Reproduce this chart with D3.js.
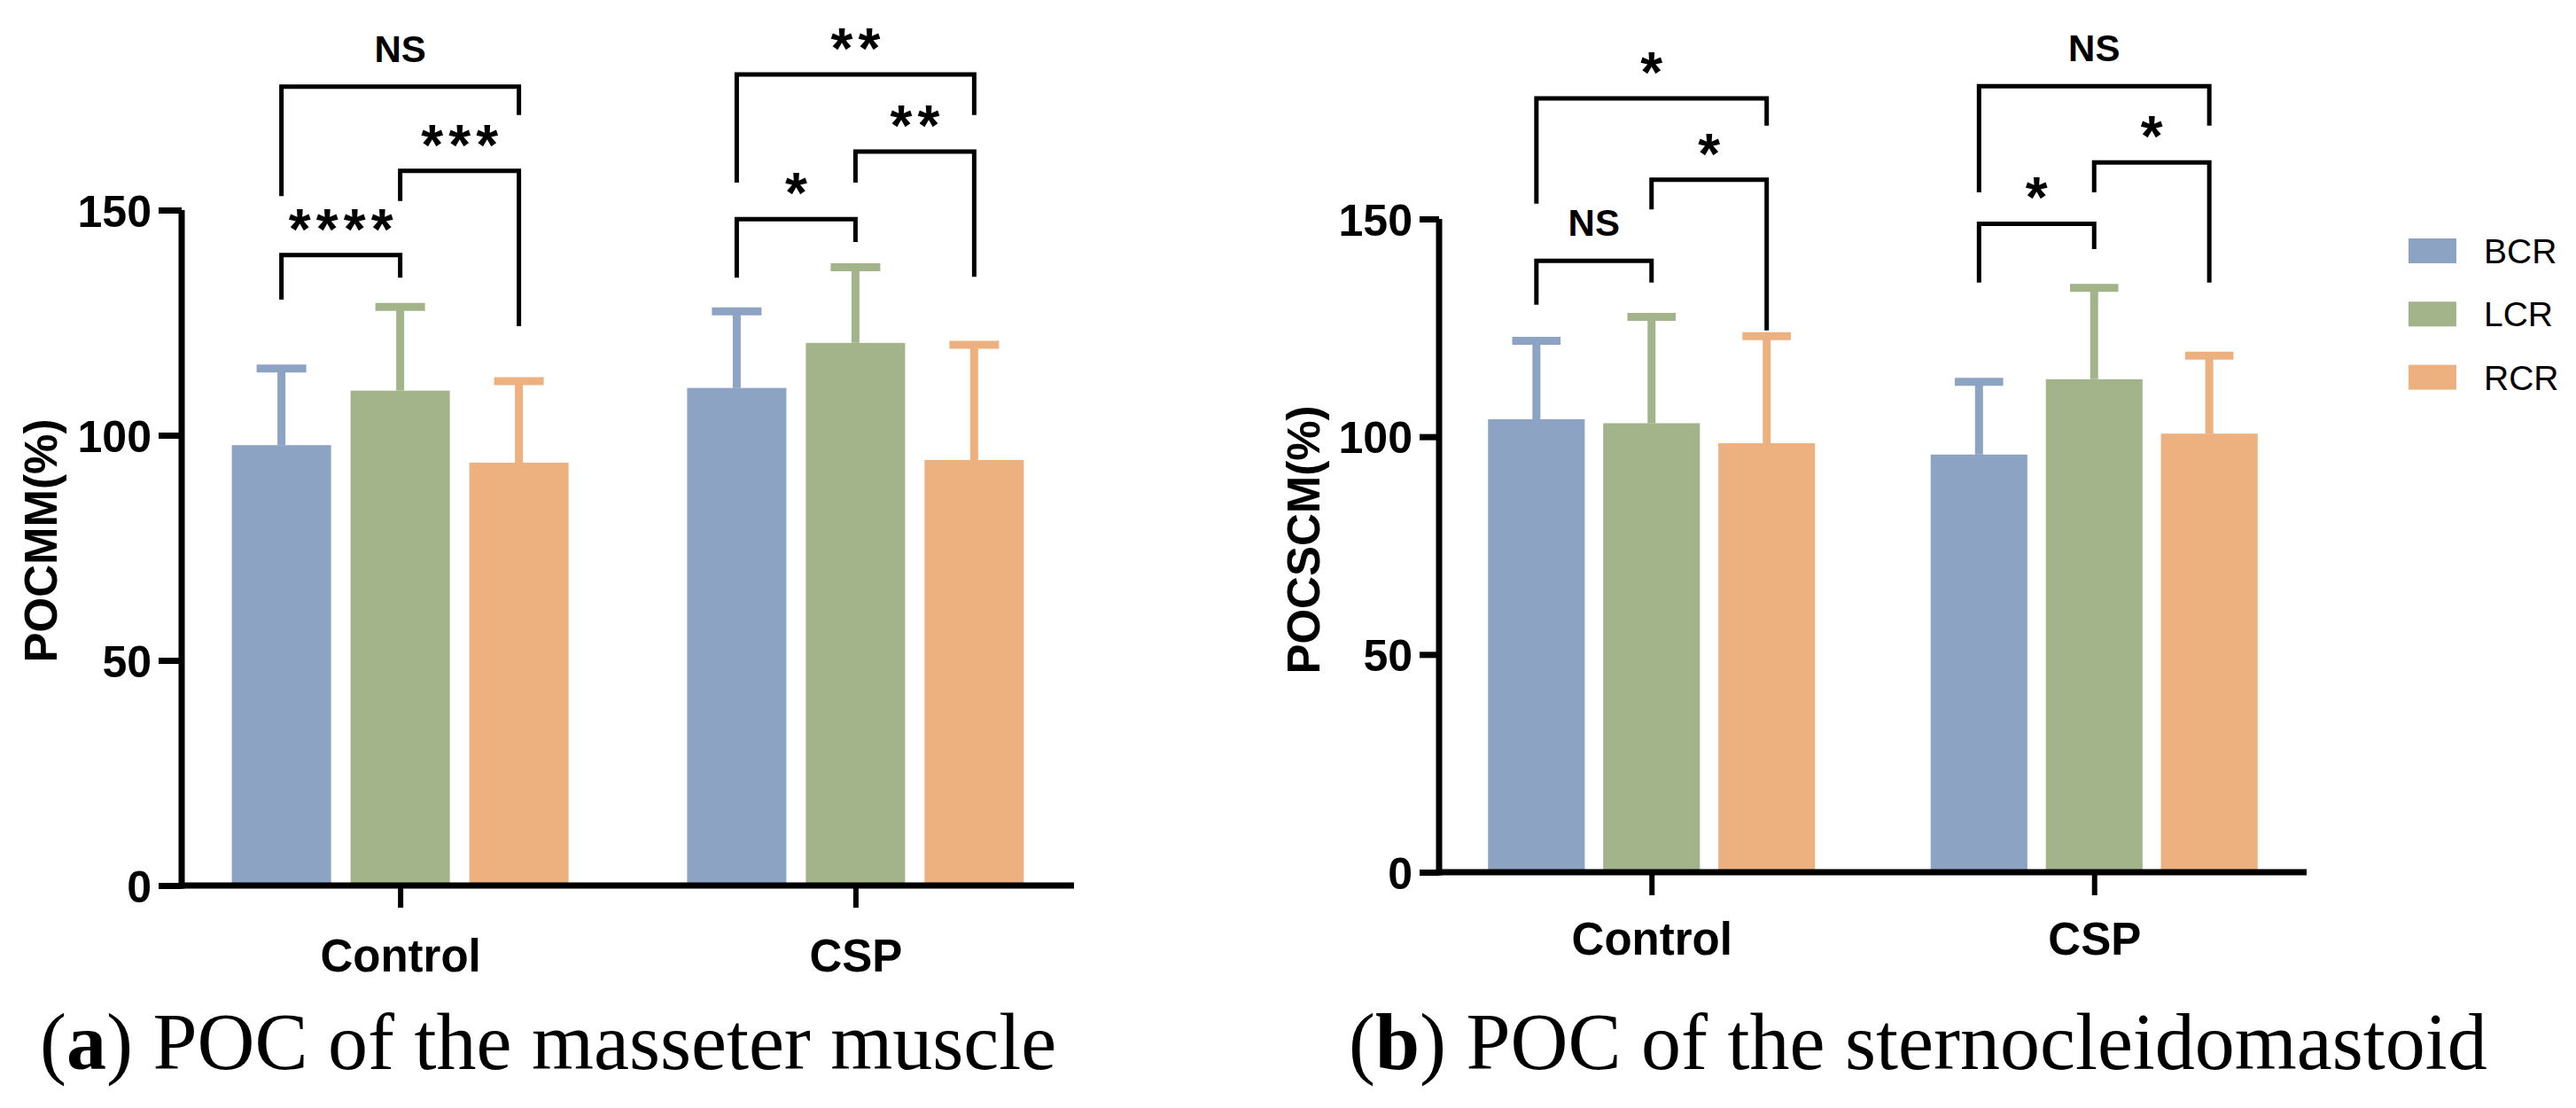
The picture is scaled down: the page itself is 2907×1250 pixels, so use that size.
<!DOCTYPE html>
<html><head><meta charset="utf-8">
<script src="https://cdn.jsdelivr.net/npm/d3@7"></script>
<style>body{margin:0;background:#fff} svg{display:block}</style>
</head><body>
<svg id="c" width="2907" height="1250"></svg>
<script>
const groups = ["Control","CSP"];
const series = ["BCR","LCR","RCR"];
const colors = ["#8DA3C3","#A4B48A","#ECB17E"];
const yTicks = [0,50,100,150];
const masseterMean = [[97.8,109.9,93.9],[110.5,120.5,94.5]];
const masseterSD   = [[17.0,18.6,18.1],[17.0,16.8,25.6]];
const scmMean = [[104.0,103.1,98.5],[95.9,113.2,100.7]];
const scmSD   = [[18.0,24.4,24.6],[16.7,21.0,17.9]];
// comparisons: group, series a, series b, bracket level, left-leg end, right-leg end, label (all in y units)
const masseterSig = [
 ["Control",0,2,177.4,153.1,171.1,"NS"],
 ["Control",1,2,158.7,152.0,124.2,"***"],
 ["Control",0,1,140.0,130.1,135.0,"****"],
 ["CSP",0,2,180.1,156.1,171.1,"**"],
 ["CSP",1,2,163.0,156.1,135.2,"**"],
 ["CSP",0,1,148.0,135.0,142.9,"*"]];
const scmSig = [
 ["Control",0,2,177.7,153.5,171.4,"*"],
 ["Control",1,2,159.0,152.2,124.4,"*"],
 ["Control",0,1,140.4,130.3,135.4,"NS"],
 ["CSP",0,2,180.5,156.1,171.4,"NS"],
 ["CSP",1,2,163.0,156.1,135.4,"*"],
 ["CSP",0,1,148.9,135.4,143.1,"*"]];
const yLabels = ["POCMM(%)","POCSCM(%)"];
const captions = [["a"," POC of the masseter muscle"],["b"," POC of the sternocleidomastoid"]];

const svg = d3.select("#c");
const SANS = "'Liberation Sans', Arial, sans-serif";

function panel(cfg){
  const g = svg.append("g");
  const x = d3.scalePoint().domain(groups).range([cfg.x0, cfg.x1]).padding(0.48);
  const inner = d3.scaleBand().domain(series).range([-cfg.span/2, cfg.span/2]).paddingInner(cfg.pad).paddingOuter(0);
  const y = d3.scaleLinear().domain([0,150]).range([cfg.y0, cfg.y1]);
  const bw = inner.bandwidth();
  const cx = (gi, si) => x(groups[gi]) + inner(series[si]) + bw/2;

  groups.forEach((grp, gi) => {
    series.forEach((s, si) => {
      const m = cfg.mean[gi][si], sd = cfg.sd[gi][si];
      const c = cx(gi, si);
      g.append("rect").attr("x", c - bw/2).attr("width", bw)
        .attr("y", y(m)).attr("height", y(0) - y(m)).attr("fill", colors[si]);
      g.append("line").attr("x1", c).attr("x2", c).attr("y1", y(m)).attr("y2", y(m+sd))
        .attr("stroke", colors[si]).attr("stroke-width", 9);
      g.append("line").attr("x1", c - bw/4).attr("x2", c + bw/4).attr("y1", y(m+sd)).attr("y2", y(m+sd))
        .attr("stroke", colors[si]).attr("stroke-width", 9);
    });
  });

  const ya = g.append("g").attr("transform", `translate(${cfg.x0},0)`)
    .call(d3.axisLeft(y).tickValues(yTicks).tickSize(cfg.tick).tickPadding(8).tickSizeOuter(0));
  ya.select(".domain").attr("stroke", "#000").attr("stroke-width", 7).attr("d", `M0,${cfg.y0+3.5}V${cfg.y1}`);
  ya.selectAll(".tick line").attr("stroke", "#000").attr("stroke-width", 7);
  ya.selectAll(".tick text").attr("font-family", SANS).attr("font-weight", "bold")
    .attr("font-size", 50).attr("fill", "#000").attr("dy", "0.36em");

  const xa = g.append("g").attr("transform", `translate(0,${cfg.y0})`)
    .call(d3.axisBottom(x).tickSize(cfg.xtick).tickPadding(0).tickSizeOuter(0));
  xa.select(".domain").attr("stroke", "#000").attr("stroke-width", 7).attr("d", `M${cfg.x0-3.5},0H${cfg.x1}`);
  xa.selectAll(".tick line").attr("stroke", "#000").attr("stroke-width", 6);
  xa.selectAll(".tick text").attr("font-family", SANS).attr("font-weight", "bold")
    .attr("font-size", 51).attr("fill", "#000").attr("dy", null).attr("y", cfg.xlabY);

  g.append("text").attr("transform", `translate(${cfg.ylabX},${cfg.ylabY}) rotate(-90)`)
    .attr("text-anchor", "middle").attr("font-family", SANS).attr("font-weight", "bold")
    .attr("font-size", 51).text(cfg.ylab);

  cfg.sig.forEach(([grp, a, b, lvl, la, lb, lab]) => {
    const gi = groups.indexOf(grp);
    const xa_ = cx(gi, a), xb = cx(gi, b);
    g.append("path").attr("fill", "none").attr("stroke", "#000").attr("stroke-width", 5)
      .attr("stroke-linejoin", "miter")
      .attr("d", `M${xa_},${y(la)}V${y(lvl)}H${xb}V${y(lb)}`);
    const mid = (xa_ + xb)/2, yc = y(lvl) - 43;
    if (lab === "NS") {
      g.append("text").attr("x", mid).attr("y", yc + 15).attr("text-anchor", "middle")
        .attr("font-family", SANS).attr("font-weight", "bold").attr("font-size", 42).text(lab);
    } else {
      const n = lab.length;
      for (let i = 0; i < n; i++) {
        g.append("text").attr("x", mid + (i - (n-1)/2) * 31).attr("y", yc + 36)
          .attr("text-anchor", "middle").attr("font-family", SANS).attr("font-weight", "bold")
          .attr("font-size", 64).text("*");
      }
    }
  });

  const t = svg.append("text").attr("x", cfg.capX).attr("y", 1206)
    .attr("font-family", "'Liberation Serif', 'Times New Roman', serif").attr("font-size", 90);
  t.append("tspan").text("(");
  t.append("tspan").attr("font-weight", "bold").text(cfg.cap[0]);
  t.append("tspan").text(")" + cfg.cap[1]);
}

panel({x0:205, x1:1212, y0:999, y1:237, span:380, pad:0.164, tick:26, xtick:25, xlabY:97,
  mean:masseterMean, sd:masseterSD, sig:masseterSig, ylab:yLabels[0], ylabX:64, ylabY:610,
  cap:captions[0], capX:45});
panel({x0:1624, x1:2603, y0:984, y1:247, span:369, pad:0.16, tick:22, xtick:26, xlabY:93,
  mean:scmMean, sd:scmSD, sig:scmSig, ylab:yLabels[1], ylabX:1489, ylabY:609,
  cap:captions[1], capX:1522});

const lg = svg.append("g");
series.forEach((s, i) => {
  const yc = 283 + i * 71.3;
  lg.append("rect").attr("x", 2718).attr("y", yc - 14).attr("width", 54).attr("height", 28).attr("fill", colors[i]);
  lg.append("text").attr("x", 2803).attr("y", yc + 14).attr("font-family", SANS)
    .attr("font-size", 39).attr("fill", "#000").text(s);
});
</script>
</body></html>
